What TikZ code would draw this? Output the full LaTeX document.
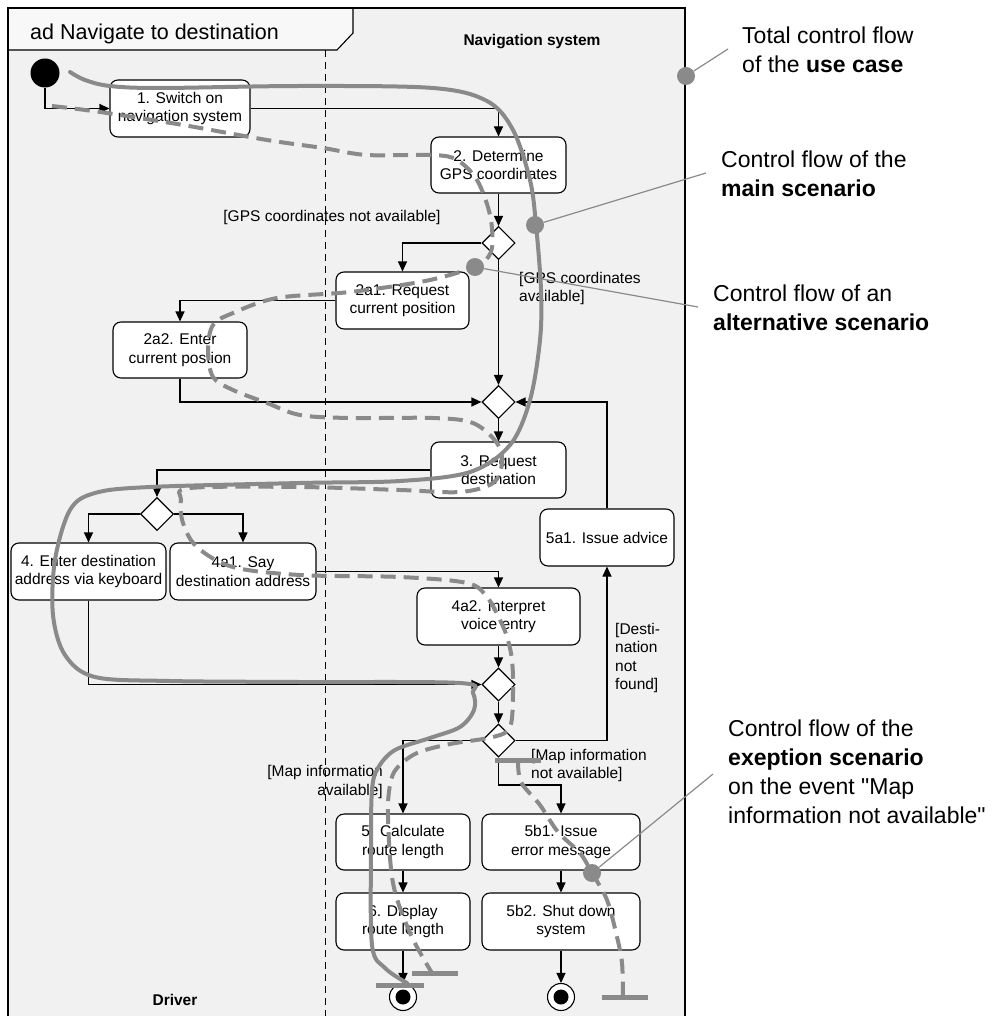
\documentclass[tikz,border=0pt]{standalone}
\usepackage{fontspec}
\setmainfont{Liberation Sans}[Ligatures=TeXOff]
\usetikzlibrary{arrows.meta,shapes.geometric}
\definecolor{flowgray}{RGB}{138,138,138}
\definecolor{framefill}{RGB}{241,241,241}
\definecolor{tabfill}{RGB}{248,248,248}
\begin{document}
\begin{tikzpicture}[x=1pt,y=-1pt,
  act/.style={draw, rounded corners=8pt, fill=white, line width=1.1pt, align=center, font=\fontsize{15.5}{18.5}\selectfont, inner sep=0pt},
  dec/.style={draw, diamond, fill=white, minimum width=33pt, minimum height=33pt, inner sep=0pt, line width=1.1pt},
  conn/.style={line width=1.1pt, -{Triangle[length=10pt,width=9pt]}},
  guard/.style={font=\fontsize{15.5}{18.5}\selectfont, inner sep=0pt},
  mainflow/.style={draw=flowgray, line width=4pt, line cap=round},
  altflow/.style={draw=flowgray, line width=4pt, dash pattern=on 15pt off 8pt},
  endbar/.style={draw=flowgray, line width=5pt},
  pointer/.style={draw=flowgray, line width=1.2pt},
  flowdot/.style={circle, fill=flowgray, minimum size=18pt, inner sep=0pt},
  note/.style={font=\fontsize{23}{29}\selectfont, align=left, inner sep=0pt, anchor=base west},
  lane/.style={font=\fontsize{15.5}{18.5}\selectfont\bfseries, inner sep=0pt},
]
\useasboundingbox (0,0) rectangle (996,1016);
% frame
\fill[framefill] (8,8) rectangle (685,1020);
\fill[tabfill] (8,8) -- (353,8) -- (353,33) -- (337,50) -- (8,50) -- cycle;
\draw[line width=1.2pt] (8,1020) -- (8,8) -- (685,8) -- (685,1020);
\draw[line width=1.1pt] (353,8) -- (353,33) -- (337,50) -- (8,50);
\node[anchor=base west, inner sep=0pt, font=\fontsize{21.5}{26}\selectfont] (title) at (30,40) {ad Navigate to destination};
% swimlane
\draw[line width=1pt, dash pattern=on 7pt off 5pt] (325,50) -- (325,1020);
\node[lane] (lnav) at (532,42) {Navigation system};
\node[lane] (ldrv) at (175,1000) {Driver};

% nodes
\node[circle, fill=black, minimum size=29pt, inner sep=0pt] (init) at (45,73) {};
\node[act, minimum width=140pt, minimum height=57pt] (b1) at (180,108.5) {1. Switch on\\navigation system};
\node[act, minimum width=135pt, minimum height=56pt] (b2) at (498.5,165) {2. Determine\\GPS coordinates};
\node[dec] (d1) at (498.5,243) {};
\node[act, minimum width=133pt, minimum height=57pt] (b2a1) at (402.5,300.5) {2a1. Request\\current position};
\node[act, minimum width=134pt, minimum height=56pt] (b2a2) at (180,350) {2a2. Enter\\current postion};
\node[dec] (d2) at (498.5,402) {};
\node[act, minimum width=135pt, minimum height=56pt] (b3) at (498.5,470) {3. Request\\destination};
\node[act, minimum width=134pt, minimum height=57pt] (b5a1) at (607,537.5) {5a1. Issue advice};
\node[dec] (d3) at (157,514) {};
\node[act, minimum width=155pt, minimum height=57pt] (b4) at (88.5,571.5) {4. Enter destination\\address via keyboard};
\node[act, minimum width=146pt, minimum height=57pt] (b4a1) at (243,571.5) {4a1. Say\\destination address};
\node[act, minimum width=163pt, minimum height=57pt] (b4a2) at (498.5,616.5) {4a2. Interpret\\voice entry};
\node[dec] (d4) at (498.5,684.5) {};
\node[dec] (d5) at (498.5,740.5) {};
\coordinate (c5) at (498.5,785);
\node[act, minimum width=134pt, minimum height=56pt] (b5) at (403,842) {5. Calculate\\route length};
\node[act, minimum width=134pt, minimum height=57pt] (b6) at (403,921.5) {6. Display\\route length};
\node[act, minimum width=158pt, minimum height=56pt] (b5b1) at (561,842) {5b1. Issue\\error message};
\node[act, minimum width=158pt, minimum height=57pt] (b5b2) at (561,921.5) {5b2. Shut down\\system};
\node[circle, draw, fill=white, line width=1.1pt, minimum size=27pt, inner sep=0pt] (f1) at (403,997) {};
\node[circle, fill=black, minimum size=15pt, inner sep=0pt] (f1in) at (f1) {};
\node[circle, draw, fill=white, line width=1.1pt, minimum size=27pt, inner sep=0pt] (f2) at (561,997) {};
\node[circle, fill=black, minimum size=15pt, inner sep=0pt] (f2in) at (f2) {};

% connectors
\draw[conn] (init.south) |- (b1.west);
\draw[conn] (b1.east) -| (b2.north);
\draw[conn] (b2.south) -- (d1.north);
\draw[conn] (d1.west) -| (b2a1.north);
\draw[conn] (d1.south) -- (d2.north);
\draw[conn] (b2a1.west) -| (b2a2.north);
\draw[conn] (b2a2.south) |- (d2.west);
\draw[conn] (b5a1.north) |- (d2.east);
\draw[conn] (d2.south) -- (b3.north);
\draw[conn] (b3.west) -| (d3.north);
\draw[conn] (d3.west) -| (b4.north);
\draw[conn] (d3.east) -| (b4a1.north);
\draw[conn] (b4a1.east) -| (b4a2.north);
\draw[conn] (b4.south) |- (d4.west);
\draw[conn] (b4a2.south) -- (d4.north);
\draw[conn] (d4.south) -- (d5.north);
\draw[conn] (d5.east) -| (b5a1.south);
\draw[conn] (d5.west) -| (b5.north);
\draw[conn] (d5.south) -- (c5) -| (b5b1.north);
\draw[conn] (b5.south) -- (b6.north);
\draw[conn] (b6.south) -- (f1.north);
\draw[conn] (b5b1.south) -- (b5b2.north);
\draw[conn] (b5b2.south) -- (f2.north);

% guards
\node[guard] (g1) at (332,217) {[GPS coordinates not available]};
\node[guard, align=left, anchor=west] (g2) at (519,288.5) {[GPS coordinates\\available]};
\node[guard, align=left, anchor=west] (g3) at (615,658) {[Desti-\\nation\\not\\found]};
\node[guard, align=right, anchor=east] (g4) at (383,782) {[Map information\\available]};
\node[guard, align=left, anchor=west] (g5) at (531,765.5) {[Map information\\not available]};

% main scenario (solid)
\draw[mainflow] plot[smooth, tension=0.55] coordinates {(70,72) (85,80) (110,86) (160,88) (300,86) (433,88) (487,101) (513,130) (530,180) (536,225) (541,290) (540,340) (530,400) (510,445) (470,472) (400,481) (300,483) (150,487) (95,493) (70,510) (55,560) (53,615) (65,655) (95,677) (170,681) (300,682) (460,683) (473,693) (474,710) (460,727) (430,738) (395,750) (378,768) (372,790) (371,850) (372,945) (385,968) (407,983)};
\draw[endbar] (376,985) -- (424,985);

% alternative scenario (dashed)
\draw[altflow] plot[smooth, tension=0.55] coordinates {(52,106) (100,112) (183,125) (267,140) (323,148) (367,155) (433,155) (457,160) (477,180) (490,215) (492,248) (482,263) (460,272) (420,282) (350,292) (277,298) (233,313) (213,325) (208,350) (213,377) (233,390) (267,403) (300,415) (350,418) (433,418) (473,423) (497,443) (502,463) (493,483) (460,492) (400,490) (300,487) (190,488) (181,500) (183,523) (197,547) (233,567) (300,575) (400,577) (467,583) (487,597) (500,620) (507,637) (512,660) (513,693) (510,727) (493,737) (450,744) (417,753) (397,768) (390,785) (388,817) (393,883) (410,933) (432,973)};
\draw[endbar] (412,973) -- (458,973);

% exception scenario (dashed)
\draw[endbar] (495,760) -- (541,760);
\draw[altflow] plot[smooth, tension=0.55] coordinates {(518,760) (521,782) (540,805) (558,832) (580,853) (592,873) (607,900) (617,937) (622,963) (623,997)};
\draw[endbar] (602,997) -- (648,997);

% annotation pointers
\node[flowdot] (p1) at (686,76) {};
\node[flowdot] (p2) at (535,225) {};
\node[flowdot] (p3) at (475,267) {};
\node[flowdot] (p4) at (592,873) {};
\coordinate (q1) at (728,49);
\coordinate (q2) at (706,173);
\coordinate (q3) at (698,307);
\coordinate (q4) at (713,774);
\draw[pointer] (p1) -- (q1);
\draw[pointer] (p2) -- (q2);
\draw[pointer] (p3) -- (q3);
\draw[pointer] (p4) -- (q4);

% annotations (base = last line)
\node[note] (n1) at (742,73) {Total control flow\\of the \textbf{use case}};
\node[note] (n2) at (721,197) {Control flow of the\\\textbf{main scenario}};
\node[note] (n3) at (713,330) {Control flow of an\\\textbf{alternative scenario}};
\node[note] (n4) at (728,823) {Control flow of the\\\textbf{exeption scenario}\\on the event "Map\\information not available"};
\end{tikzpicture}
\end{document}
